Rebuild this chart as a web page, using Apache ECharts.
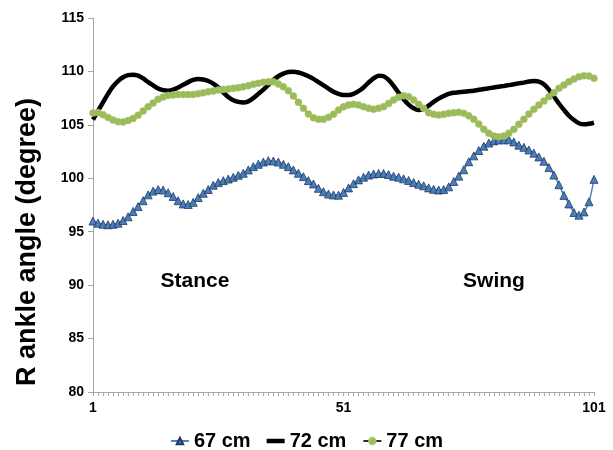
<!DOCTYPE html>
<html>
<head>
<meta charset="utf-8">
<script src="https://cdn.jsdelivr.net/npm/echarts@6/dist/echarts.min.js"></script>
<style>
  html, body { margin: 0; padding: 0; background: #ffffff; }
  #chart { width: 613px; height: 450px; }
</style>
</head>
<body>
<div id="chart"></div>
<script>
// Gait cycle points 1..101 (% of cycle)
const categories = [];
for (let i = 1; i <= 101; i++) categories.push(String(i));

// Right ankle angle (degree) for three step lengths
const cm67 = [
  96.0, 95.8, 95.7, 95.65, 95.7, 95.8, 96.05, 96.4, 96.9, 97.35,
  97.9, 98.45, 98.8, 98.95, 98.9, 98.65, 98.3, 97.9, 97.6, 97.55,
  97.75, 98.2, 98.6, 98.95, 99.35, 99.6, 99.78, 99.93, 100.09, 100.28,
  100.47, 100.78, 101.09, 101.31, 101.52, 101.65, 101.62, 101.52, 101.31, 101.09,
  100.78, 100.47, 100.15, 99.78, 99.47, 99.06, 98.75, 98.53, 98.44, 98.42,
  98.68, 99.1, 99.5, 99.85, 100.1, 100.3, 100.4, 100.45, 100.45, 100.35,
  100.2, 100.1, 99.95, 99.8, 99.6, 99.45, 99.3, 99.1, 98.97, 98.9,
  98.95, 99.2, 99.7, 100.2, 100.8, 101.55, 102.1, 102.6, 103.0, 103.3,
  103.5, 103.6, 103.6, 103.6, 103.4, 103.1, 102.9, 102.65, 102.35, 102.0,
  101.6, 101.0, 100.3, 99.4, 98.4, 97.6, 96.8, 96.55, 96.85, 97.8,
  99.9
];
const cm72 = [
  105.5, 106.3, 107.1, 107.9, 108.6, 109.1, 109.45, 109.65, 109.7, 109.6,
  109.35, 109.0, 108.7, 108.4, 108.25, 108.2, 108.3, 108.5, 108.75, 109.0,
  109.2, 109.3, 109.25, 109.1, 108.85, 108.5, 108.05, 107.6, 107.3, 107.15,
  107.1, 107.2, 107.5, 107.9, 108.3, 108.75, 109.2, 109.55, 109.8, 109.95,
  109.98, 109.9, 109.75, 109.55, 109.3, 109.0, 108.7, 108.4, 108.1, 107.9,
  107.8, 107.8, 107.9, 108.15, 108.5, 108.95, 109.35, 109.6, 109.55, 109.2,
  108.65, 108.0, 107.4, 106.9, 106.55, 106.4, 106.5, 106.8, 107.15, 107.45,
  107.7, 107.9, 108.0, 108.05, 108.1, 108.15, 108.2, 108.28, 108.35, 108.42,
  108.5, 108.57, 108.64, 108.72, 108.8, 108.88, 108.95, 109.05, 109.1, 109.05,
  108.8, 108.3, 107.65, 107.0, 106.4, 105.85, 105.45, 105.15, 105.05, 105.1,
  105.2
];
const cm77 = [
  106.1, 106.15, 105.95, 105.7, 105.45, 105.3, 105.27, 105.4, 105.6, 105.9,
  106.3, 106.7, 107.05, 107.4, 107.6, 107.75, 107.8, 107.83, 107.83, 107.83,
  107.85, 107.92, 108.0, 108.1, 108.17, 108.26, 108.32, 108.35, 108.42, 108.48,
  108.57, 108.67, 108.79, 108.89, 108.98, 109.04, 109.04, 108.82, 108.57, 108.2,
  107.7, 107.11, 106.55, 106.02, 105.67, 105.52, 105.52, 105.71, 105.99, 106.39,
  106.7, 106.86, 106.92, 106.86, 106.7, 106.55, 106.46, 106.55, 106.7, 107.0,
  107.33, 107.58, 107.73, 107.64, 107.33, 106.92, 106.55, 106.14, 105.99, 105.92,
  105.99, 106.08, 106.14, 106.17, 106.08, 105.85, 105.52, 105.08, 104.58, 104.21,
  103.96, 103.89, 103.96, 104.21, 104.58, 105.05, 105.52, 106.02, 106.46, 106.86,
  107.23, 107.64, 108.01, 108.42, 108.73, 109.04, 109.29, 109.51, 109.6, 109.57,
  109.36
];

const seriesNames = ['67 cm', '72 cm', '77 cm'];
const phaseLabels = ['Stance', 'Swing'];
const yTitle = 'R ankle angle (degree)';

const FONT = '"Liberation Sans", Arial, sans-serif';
const axisGray = '#a6a6a6';

const chart = echarts.init(document.getElementById('chart'), null, { renderer: 'canvas' });

chart.setOption({
  animation: false,
  backgroundColor: '#ffffff',
  textStyle: { fontFamily: FONT },
  grid: { left: 93, right: 19, top: 18, bottom: 58, containLabel: false },
  legend: {
    data: [
      { name: seriesNames[0] },
      // plain thick bar for the marker-less series
      { name: seriesNames[1], icon: 'path://M0,0H18V4.5H0Z', itemStyle: { color: '#000000' } },
      { name: seriesNames[2] }
    ],
    left: 'center',
    top: 426,
    itemWidth: 18,
    itemHeight: 8,
    itemGap: 16,
    symbolKeepAspect: true,
    textStyle: { fontFamily: FONT, fontSize: 20, fontWeight: 'bold', color: '#000' }
  },
  xAxis: {
    type: 'category',
    data: categories,
    boundaryGap: false,
    axisLine: { lineStyle: { color: axisGray, width: 1 } },
    axisTick: { show: true, interval: 0, length: 4, lineStyle: { color: axisGray } },
    axisLabel: {
      interval: 49,
      margin: 9,
      fontFamily: FONT, fontSize: 14, fontWeight: 'bold', color: '#000'
    },
    splitLine: { show: false }
  },
  yAxis: {
    type: 'value',
    min: 80,
    max: 115,
    interval: 5,
    axisLine: { show: true, lineStyle: { color: axisGray, width: 1 } },
    axisTick: { show: true, length: 5, lineStyle: { color: axisGray } },
    axisLabel: { margin: 9, fontFamily: FONT, fontSize: 14, fontWeight: 'bold', color: '#000' },
    splitLine: { show: false }
  },
  graphic: [
    {
      type: 'text',
      x: 28, y: 242,
      rotation: Math.PI / 2,
      style: {
        text: yTitle,
        fontFamily: FONT, fontSize: 27, fontWeight: 'bold', fill: '#000',
        align: 'center', verticalAlign: 'middle'
      }
    },
    {
      type: 'text',
      x: 195, y: 281,
      style: {
        text: phaseLabels[0],
        fontFamily: FONT, fontSize: 21, fontWeight: 'bold', fill: '#000',
        align: 'center', verticalAlign: 'middle'
      }
    },
    {
      type: 'text',
      x: 494, y: 281,
      style: {
        text: phaseLabels[1],
        fontFamily: FONT, fontSize: 21, fontWeight: 'bold', fill: '#000',
        align: 'center', verticalAlign: 'middle'
      }
    }
  ],
  series: [
    {
      name: seriesNames[0],
      type: 'line',
      data: cm67,
      smooth: 0.3,
      symbol: 'triangle',
      symbolSize: 8,
      showAllSymbol: true,
      lineStyle: { color: '#4f81bd', width: 1.5 },
      itemStyle: { color: '#4a7ebb', borderColor: '#1f3a5f', borderWidth: 0.8 }
    },
    {
      name: seriesNames[1],
      type: 'line',
      data: cm72,
      smooth: 0.3,
      showSymbol: false,
      symbol: 'none',
      lineStyle: { color: '#000000', width: 4.5 },
      itemStyle: { color: '#000000' }
    },
    {
      name: seriesNames[2],
      type: 'line',
      data: cm77,
      smooth: 0.3,
      symbol: 'circle',
      symbolSize: 7,
      showAllSymbol: true,
      lineStyle: { color: '#2b2f22', width: 1.2 },
      itemStyle: { color: '#9bbb59', borderColor: '#a9c46f', borderWidth: 0.5 }
    }
  ]
});
</script>
</body>
</html>
